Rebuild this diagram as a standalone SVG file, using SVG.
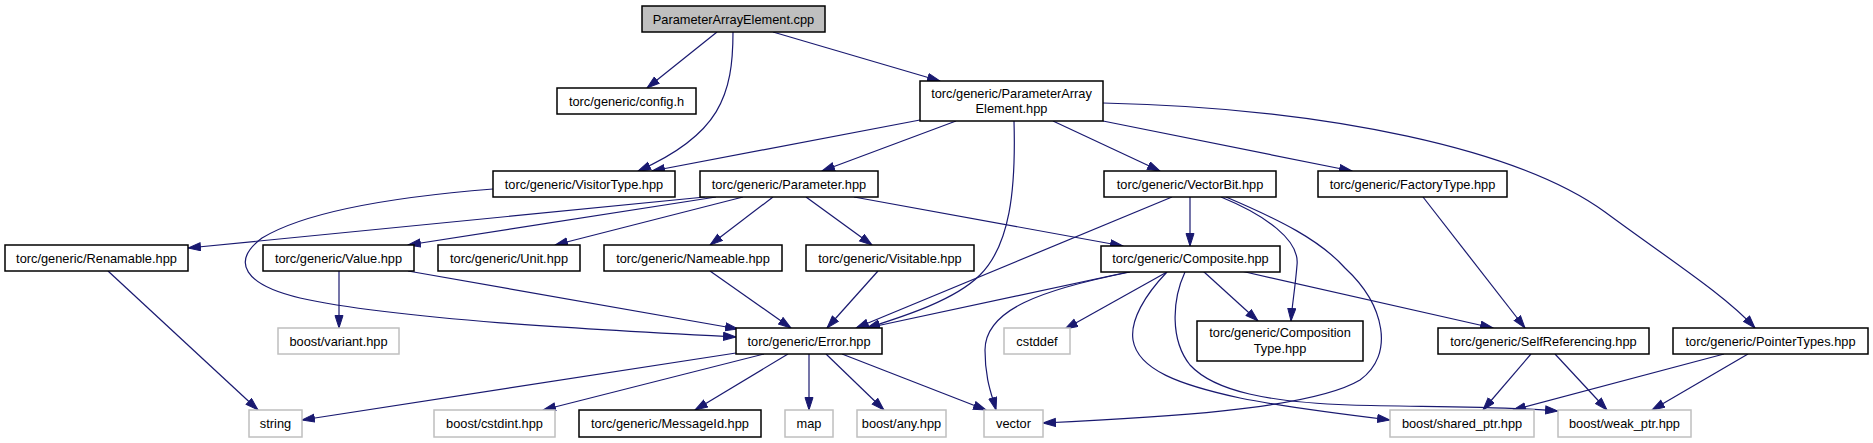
<svg xmlns="http://www.w3.org/2000/svg" width="1873" height="443" viewBox="0 0 1873 443">
<style>
.n rect{fill:#fff;stroke:#000;stroke-width:1.5}
.n.g rect{stroke:#bfbfbf}
.n.root rect{fill:#bfbfbf}
.n text{font-family:"Liberation Sans",Arial,sans-serif;font-size:12.8px;fill:#000;text-anchor:middle}
#edges path{fill:none;stroke:#191970;stroke-width:1.2;marker-end:url(#ah)}
</style>
<defs>
<marker id="ah" markerUnits="userSpaceOnUse" markerWidth="14" markerHeight="10" refX="13" refY="4.5" orient="auto">
<path d="M0.5,0.5 L13,4.5 L0.5,8.5 z" fill="#191970" stroke="#191970" stroke-width="1"/>
</marker>
</defs>
<rect width="1873" height="443" fill="#fff"/>
<g id="edges">
<path d="M717,32 L647,88"/>
<path d="M733,32 C733,95 720,135 638,171"/>
<path d="M773,32 L940,81"/>
<path d="M920,120 L652,171"/>
<path d="M956,121 L822,171"/>
<path d="M1014,121 C1016,190 1010,245 980,275 C955,300 905,316 867,328"/>
<path d="M1053,121 L1160,171"/>
<path d="M1103,121 L1352,171"/>
<path d="M1103,103 C1330,108 1520,150 1605,212 C1670,260 1725,295 1755,328"/>
<path d="M705,197 L188,248"/>
<path d="M716,197 L408,245"/>
<path d="M743,197 L555,245"/>
<path d="M773,197 L710,245"/>
<path d="M806,197 L872,245"/>
<path d="M854,197 L1123,246"/>
<path d="M493,189 C380,198 300,215 262,238 C230,262 245,285 300,298 C400,320 600,330 736,337"/>
<path d="M408,271 L738,329"/>
<path d="M339,271 L339,328"/>
<path d="M710,271 L791,328"/>
<path d="M878,271 L827,328"/>
<path d="M108,271 L258,410"/>
<path d="M1190,197 L1190,246"/>
<path d="M1172,197 L856,328"/>
<path d="M1133,271 L867,328"/>
<path d="M1221,197 C1265,215 1300,240 1297,265 C1295,290 1292,305 1291,321"/>
<path d="M1226,197 C1280,220 1320,240 1345,268 C1385,305 1395,355 1360,380 C1310,410 1150,418 1043,423"/>
<path d="M1423,197 L1525,328"/>
<path d="M1130,272 C1040,290 985,310 985,350 C985,380 992,395 996,410"/>
<path d="M1167,272 L1065,329"/>
<path d="M1203,271 L1258,321"/>
<path d="M1241,271 L1493,328"/>
<path d="M1167,272 C1145,295 1130,320 1133,340 C1138,370 1180,385 1240,398 C1290,408 1340,414 1390,420"/>
<path d="M1185,272 C1172,300 1170,340 1190,365 C1215,392 1270,402 1350,405 C1420,407 1500,406 1558,411"/>
<path d="M736,353 L302,420"/>
<path d="M764,354 L543,410"/>
<path d="M788,354 L695,410"/>
<path d="M809,354 L809,410"/>
<path d="M826,354 L884,410"/>
<path d="M842,354 L986,410"/>
<path d="M1531,354 L1483,410"/>
<path d="M1555,354 L1607,410"/>
<path d="M1724,354 L1513,410"/>
<path d="M1748,354 L1652,410"/>
</g>
<g id="n_pae_cpp" class="n root"><rect x="642" y="6" width="183" height="26"/><text x="733.5" y="23.5">ParameterArrayElement.cpp</text></g>
<g id="n_config" class="n"><rect x="557" y="88" width="139" height="26"/><text x="626.5" y="105.5">torc/generic/config.h</text></g>
<g id="n_pae_hpp" class="n"><rect x="920" y="81" width="183" height="40"/><text x="1011.5" y="97.5">torc/generic/ParameterArray</text><text x="1011.5" y="112.5">Element.hpp</text></g>
<g id="n_visitortype" class="n"><rect x="493" y="171" width="182" height="26"/><text x="584" y="188.5">torc/generic/VisitorType.hpp</text></g>
<g id="n_parameter" class="n"><rect x="700" y="171" width="178" height="26"/><text x="789" y="188.5">torc/generic/Parameter.hpp</text></g>
<g id="n_vectorbit" class="n"><rect x="1104" y="171" width="172" height="26"/><text x="1190" y="188.5">torc/generic/VectorBit.hpp</text></g>
<g id="n_factorytype" class="n"><rect x="1318" y="171" width="189" height="26"/><text x="1412.5" y="188.5">torc/generic/FactoryType.hpp</text></g>
<g id="n_renamable" class="n"><rect x="5" y="245" width="183" height="26"/><text x="96.5" y="262.5">torc/generic/Renamable.hpp</text></g>
<g id="n_value" class="n"><rect x="263" y="245" width="151" height="26"/><text x="338.5" y="262.5">torc/generic/Value.hpp</text></g>
<g id="n_unit" class="n"><rect x="438" y="245" width="142" height="26"/><text x="509" y="262.5">torc/generic/Unit.hpp</text></g>
<g id="n_nameable" class="n"><rect x="604" y="245" width="178" height="26"/><text x="693" y="262.5">torc/generic/Nameable.hpp</text></g>
<g id="n_visitable" class="n"><rect x="806" y="245" width="168" height="26"/><text x="890" y="262.5">torc/generic/Visitable.hpp</text></g>
<g id="n_composite" class="n"><rect x="1101" y="246" width="179" height="26"/><text x="1190.5" y="263">torc/generic/Composite.hpp</text></g>
<g id="n_error" class="n"><rect x="736" y="328" width="146" height="26"/><text x="809" y="345.5">torc/generic/Error.hpp</text></g>
<g id="n_variant" class="n g"><rect x="278" y="328" width="121" height="26"/><text x="338.5" y="345.5">boost/variant.hpp</text></g>
<g id="n_cstddef" class="n g"><rect x="1004" y="328" width="66" height="26"/><text x="1037" y="345.5">cstddef</text></g>
<g id="n_compositiontype" class="n"><rect x="1197" y="321" width="166" height="40"/><text x="1280" y="337">torc/generic/Composition</text><text x="1280" y="352.5">Type.hpp</text></g>
<g id="n_selfref" class="n"><rect x="1438" y="328" width="211" height="26"/><text x="1543.5" y="345.5">torc/generic/SelfReferencing.hpp</text></g>
<g id="n_pointertypes" class="n"><rect x="1673" y="328" width="195" height="26"/><text x="1770.5" y="345.5">torc/generic/PointerTypes.hpp</text></g>
<g id="n_string" class="n g"><rect x="249" y="410" width="53" height="27"/><text x="275.5" y="428">string</text></g>
<g id="n_cstdint" class="n g"><rect x="434" y="410" width="121" height="27"/><text x="494.5" y="428">boost/cstdint.hpp</text></g>
<g id="n_messageid" class="n"><rect x="579" y="410" width="182" height="27"/><text x="670" y="428">torc/generic/MessageId.hpp</text></g>
<g id="n_map" class="n g"><rect x="785" y="410" width="48" height="27"/><text x="809" y="428">map</text></g>
<g id="n_any" class="n g"><rect x="857" y="410" width="89" height="27"/><text x="901.5" y="428">boost/any.hpp</text></g>
<g id="n_vector" class="n g"><rect x="984" y="410" width="59" height="27"/><text x="1013.5" y="428">vector</text></g>
<g id="n_sharedptr" class="n g"><rect x="1390" y="410" width="144" height="27"/><text x="1462" y="428">boost/shared_ptr.hpp</text></g>
<g id="n_weakptr" class="n g"><rect x="1558" y="410" width="133" height="27"/><text x="1624.5" y="428">boost/weak_ptr.hpp</text></g>
</svg>
